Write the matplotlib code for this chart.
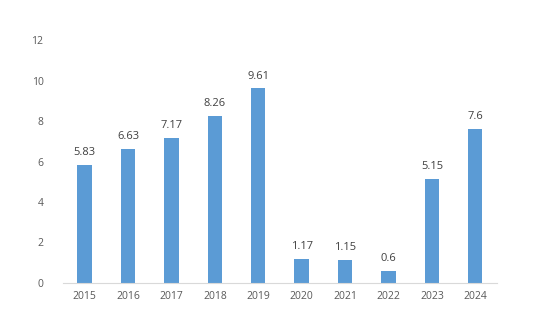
import matplotlib
matplotlib.use("Agg")
import matplotlib.pyplot as plt

years = ["2015", "2016", "2017", "2018", "2019", "2020", "2021", "2022", "2023", "2024"]
values = [5.83, 6.63, 7.17, 8.26, 9.61, 1.17, 1.15, 0.6, 5.15, 7.6]
y_ticks = [0, 2, 4, 6, 8, 10, 12]

TEXT = "#595959"
BAR = "#5B9BD5"

plt.rcParams["font.family"] = ["Open Sans", "DejaVu Sans"]

fig = plt.figure(figsize=(5.42, 3.29), dpi=100)
ax = fig.add_axes([0.116, 0.140, 0.801, 0.738])

x = range(len(years))
bars = ax.bar(x, values, width=0.33, color=BAR)
for rect, v in zip(bars, values):
    ax.annotate(f"{v:g}", (rect.get_x() + rect.get_width() / 2, rect.get_height()),
                xytext=(0, 5), textcoords="offset points",
                ha="center", va="bottom", fontsize=8, color="#404040")

ax.set_xlim(-0.5, len(years) - 0.5)
ax.set_ylim(0, 12)
ax.set_yticks(y_ticks)
ax.set_xticks(list(x))
ax.set_xticklabels(years)
ax.tick_params(axis="both", length=0, labelsize=7.5, labelcolor=TEXT)
ax.tick_params(axis="y", pad=14)
ax.tick_params(axis="x", pad=6)

for side in ["top", "right", "left"]:
    ax.spines[side].set_visible(False)
ax.spines["bottom"].set_color("#D9D9D9")

fig.savefig("out.png", dpi=100)
